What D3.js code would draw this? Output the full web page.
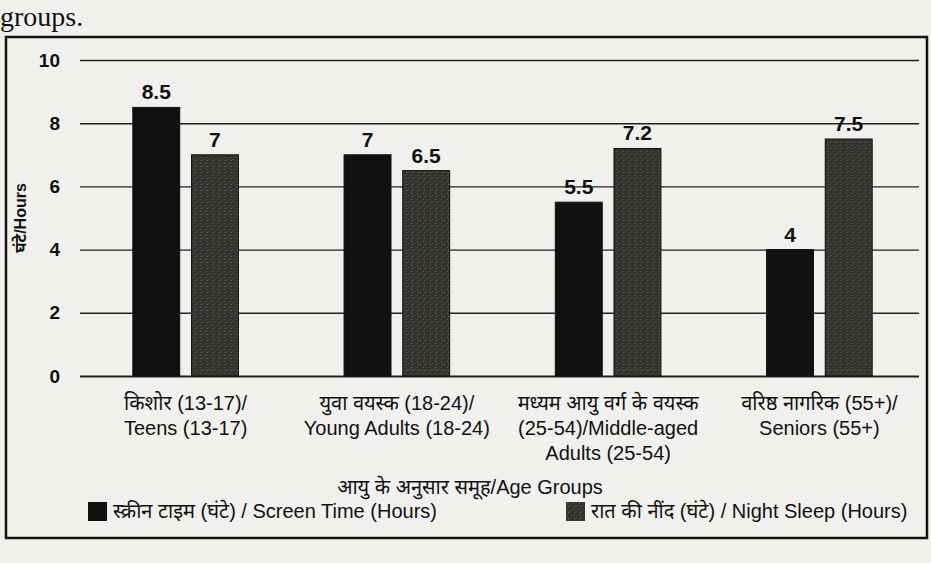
<!DOCTYPE html>
<html>
<head>
<meta charset="utf-8">
<script src="https://cdn.jsdelivr.net/npm/d3@7"></script>
<style>
  body { margin: 0; background: #f2f0ed; }
  svg { display: block; }
  text { font-family: "Liberation Sans", Arial, "Noto Sans Devanagari", "Noto Sans", sans-serif; fill: #111; }
</style>
</head>
<body>
<svg width="931" height="563"></svg>
<script>
// data
var groups = ["teens", "young", "middle", "seniors"];
var groupLabels = [
  ["किशोर (13-17)/", "Teens (13-17)"],
  ["युवा वयस्क (18-24)/", "Young Adults (18-24)"],
  ["मध्यम आयु वर्ग के वयस्क", "(25-54)/Middle-aged", "Adults (25-54)"],
  ["वरिष्ठ नागरिक (55+)/", "Seniors (55+)"]
];
var screenTime = [8.5, 7, 5.5, 4];
var nightSleep = [7, 6.5, 7.2, 7.5];
var series = ["screen", "sleep"];
var seriesLabels = ["स्क्रीन टाइम (घंटे) / Screen Time (Hours)", "रात की नींद (घंटे) / Night Sleep (Hours)"];
var yTicks = [0, 2, 4, 6, 8, 10];

var margin = {left: 80, right: 6, top: 60, bottom: 187};
var width = 931, height = 563;

var svg = d3.select("svg");

// speckled fill for sleep bars
var defs = svg.append("defs");
var pat = defs.append("pattern").attr("id", "grain")
  .attr("width", 6).attr("height", 6).attr("patternUnits", "userSpaceOnUse");
pat.append("rect").attr("width", 6).attr("height", 6).attr("fill", "#34332f");
pat.append("rect").attr("x", 1).attr("y", 1).attr("width", 1).attr("height", 1).attr("fill", "#6b6656");
pat.append("rect").attr("x", 4).attr("y", 3).attr("width", 1).attr("height", 1).attr("fill", "#57534a");
pat.append("rect").attr("x", 2).attr("y", 4).attr("width", 1).attr("height", 1).attr("fill", "#77705e");

// leftover page text
svg.append("text").attr("x", 0).attr("y", 26)
  .style("font-family", "'Liberation Serif', 'DejaVu Serif', serif")
  .style("font-size", "28px").text("groups.");

// frame
svg.append("rect").attr("x", 6).attr("y", 37).attr("width", 921).attr("height", 501)
  .attr("fill", "none").attr("stroke", "#111").attr("stroke-width", 2.5);

var x = d3.scaleBand().domain(groups)
  .range([margin.left, width - margin.right])
  .paddingInner(0.5).paddingOuter(0.25);
var xs = d3.scaleBand().domain(series).range([0, x.bandwidth()]).paddingInner(0.2);
var y = d3.scaleLinear().domain([0, 10]).range([height - margin.bottom, margin.top]);

// gridlines + tick labels
var yAxis = svg.append("g")
  .attr("transform", "translate(" + margin.left + ",0)")
  .call(d3.axisLeft(y).tickValues(yTicks).tickSize(-(width - margin.right - margin.left - 6)).tickPadding(20));
yAxis.select(".domain").remove();
yAxis.selectAll(".tick line")
  .attr("stroke", "#222")
  .attr("stroke-width", function(d) { return d === 0 ? 2.2 : 1.4; });
yAxis.selectAll(".tick text")
  .style("font-size", "19px").style("font-weight", "bold").attr("fill", "#111");

svg.append("text")
  .attr("transform", "translate(26," + y(5) + ") rotate(-90)")
  .attr("text-anchor", "middle").style("font-size", "16px").style("font-weight", "bold")
  .text("घंटे/Hours");

// bars
var rows = groups.map(function(g, i) {
  return {group: g, vals: [{s: "screen", v: screenTime[i]}, {s: "sleep", v: nightSleep[i]}]};
});

var gBars = svg.selectAll(".grp").data(rows).enter().append("g")
  .attr("transform", function(d) { return "translate(" + x(d.group) + ",0)"; });

gBars.selectAll("rect").data(function(d) { return d.vals; }).enter().append("rect")
  .attr("x", function(d) { return xs(d.s); })
  .attr("y", function(d) { return y(d.v); })
  .attr("width", xs.bandwidth())
  .attr("height", function(d) { return y(0) - y(d.v); })
  .attr("fill", function(d) { return d.s === "screen" ? "#111" : "url(#grain)"; })
  .attr("stroke", "#111").attr("stroke-width", 1);

gBars.selectAll(".val").data(function(d) { return d.vals; }).enter().append("text")
  .attr("x", function(d) { return xs(d.s) + xs.bandwidth() / 2; })
  .attr("y", function(d) { return y(d.v) - 8; })
  .attr("text-anchor", "middle")
  .style("font-size", "21px").style("font-weight", "bold")
  .text(function(d) { return d.v; });

// category labels
var lab = svg.selectAll(".cat").data(groupLabels).enter().append("text")
  .attr("text-anchor", "middle")
  .style("font-size", "20px");
lab.selectAll("tspan").data(function(d, i) { return d.map(function(t) { return {t: t, g: groups[i]}; }); })
  .enter().append("tspan")
  .attr("x", function(d) { return x(d.g) + x.bandwidth() / 2; })
  .attr("y", function(d, j) { return y(0) + 34 + j * 25; })
  .text(function(d) { return d.t; });

svg.append("text")
  .attr("x", 470).attr("y", 494).attr("text-anchor", "middle")
  .style("font-size", "20px").text("आयु के अनुसार समूह/Age Groups");

// legend
var legX = [88, 566];
var leg = svg.selectAll(".leg").data(series).enter().append("g")
  .attr("transform", function(d, i) { return "translate(" + legX[i] + ",502)"; });
leg.append("rect").attr("width", 19).attr("height", 19)
  .attr("fill", function(d) { return d === "screen" ? "#111" : "url(#grain)"; });
leg.append("text").attr("x", 25).attr("y", 16)
  .style("font-size", "20px")
  .text(function(d, i) { return seriesLabels[i]; });
</script>
</body>
</html>
